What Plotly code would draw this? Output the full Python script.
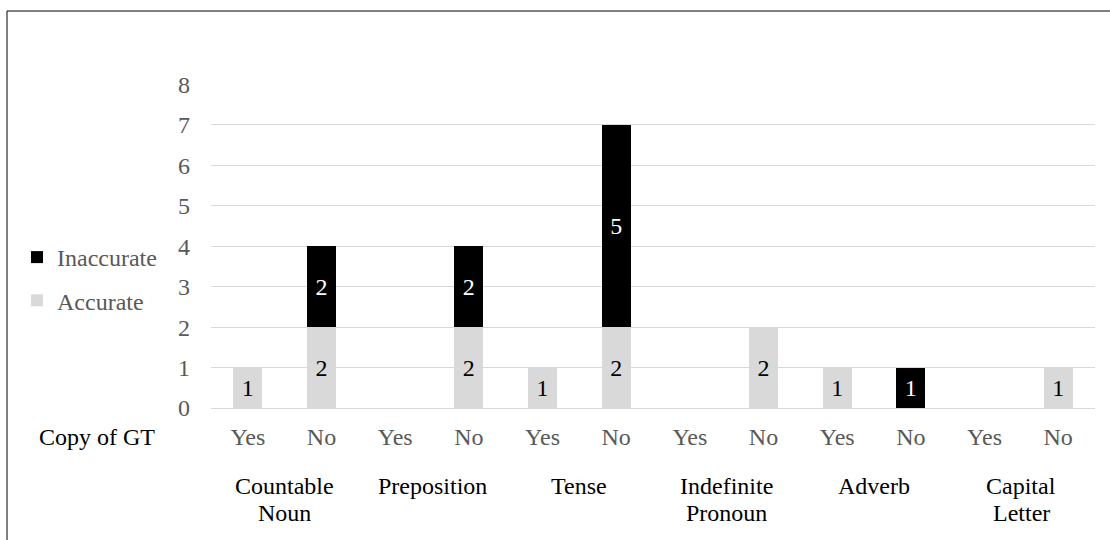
import plotly.graph_objects as go

# Error categories and the Yes/No split ("Copy of GT") under each one
categories = ["Countable<br>Noun", "Preposition", "Tense", "Indefinite<br>Pronoun", "Adverb", "Capital<br>Letter"]
copy_of_gt = ["Yes", "No"]

# Counts per bar (None = no bar / no label)
accurate = [1, 2, None, 2, 1, 2, None, 2, 1, None, None, 1]
inaccurate = [None, 2, None, 2, None, 5, None, None, None, 1, None, None]

FONT = "Times New Roman, Liberation Serif, serif"
FS = 24
GRAY_BAR = "#D9D9D9"
GRID = "#D9D9D9"
TICK_COLOR = "#595959"

# Figure geometry (pixels)
W, H = 1110, 540
L, R, T, B = 211, 15, 84, 132
PW, PH = W - L - R, H - T - B

def px_x(p):
    return (p - L) / PW

def px_y(p):
    return (H - B - p) / PH

x_pos = list(range(len(categories) * len(copy_of_gt)))
tick_text = copy_of_gt * len(categories)

fig = go.Figure()
fig.add_trace(go.Bar(
    x=x_pos, y=accurate, name="Accurate", legendgroup="acc", legendrank=2,
    marker=dict(color=GRAY_BAR, line=dict(width=0)),
    text=accurate, texttemplate="%{y}", textposition="inside",
    insidetextanchor="middle", constraintext="none",
    textfont=dict(family=FONT, size=FS, color="#000000"),
    hoverinfo="skip",
))
fig.add_trace(go.Bar(
    x=x_pos, y=inaccurate, name="Inaccurate", legendgroup="inacc", legendrank=1,
    marker=dict(color="#000000", line=dict(width=0)),
    text=inaccurate, texttemplate="%{y}", textposition="inside",
    insidetextanchor="middle", constraintext="none",
    textfont=dict(family=FONT, size=FS, color="#FFFFFF"),
    hoverinfo="skip",
))

# Group labels centred under each Yes/No pair (tight line spacing)
n_sub = len(copy_of_gt)
LINE1_Y, LINE_STEP = 486, 27
for i, cat in enumerate(categories):
    for j, line in enumerate(cat.split("<br>")):
        fig.add_annotation(
            x=i * n_sub + (n_sub - 1) / 2, xref="x",
            y=px_y(LINE1_Y + j * LINE_STEP), yref="paper", yanchor="middle",
            text=line, showarrow=False, align="center",
            font=dict(family=FONT, size=FS, color="#000000"),
        )

fig.add_annotation(
    x=px_x(97), xref="paper", y=px_y(437), yref="paper",
    xanchor="center", yanchor="middle",
    text="Copy of GT", showarrow=False,
    font=dict(family=FONT, size=FS, color="#000000"),
)

# Outer chart frame
fig.add_shape(
    type="rect", xref="paper", yref="paper",
    x0=px_x(7), x1=px_x(W + 10), y0=px_y(H + 10), y1=px_y(11),
    line=dict(color="#000000", width=1), fillcolor="rgba(0,0,0,0)", layer="above",
)

fig.update_layout(
    width=W, height=H,
    margin=dict(l=L, r=R, t=T, b=B, pad=0),
    paper_bgcolor="#FFFFFF", plot_bgcolor="#FFFFFF",
    barmode="stack", bargap=0.61,
    font=dict(family=FONT, size=FS, color=TICK_COLOR),
    showlegend=True,
    legend=dict(
        x=px_x(17), xanchor="left", y=px_y(235), yanchor="top",
        traceorder="grouped", tracegroupgap=9,
        font=dict(family=FONT, size=FS, color=TICK_COLOR),
        bgcolor="rgba(0,0,0,0)", itemwidth=30,
    ),
    xaxis=dict(
        range=[-0.5, len(x_pos) - 0.5],
        tickmode="array", tickvals=x_pos, ticktext=tick_text,
        showgrid=False, zeroline=False, showline=True,
        linecolor=GRID, linewidth=1, ticks="",
        ticklabelstandoff=7,
        tickfont=dict(family=FONT, size=FS, color=TICK_COLOR),
    ),
    yaxis=dict(
        range=[0, 8.01], dtick=1, tick0=0,
        showgrid=True, gridcolor=GRID, gridwidth=1,
        zeroline=False, showline=False, ticks="",
        ticklabelstandoff=20,
        tickfont=dict(family=FONT, size=FS, color=TICK_COLOR),
    ),
)

fig.write_html("out.html")
